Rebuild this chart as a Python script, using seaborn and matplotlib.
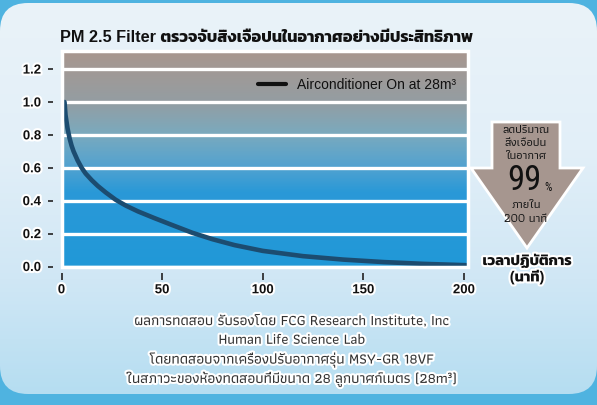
import numpy as np
import pandas as pd
import matplotlib
matplotlib.use("Agg")
import matplotlib.pyplot as plt
import matplotlib.patheffects as pe
from matplotlib.patches import Polygon, FancyBboxPatch
import seaborn as sns

# values
minutes = [1.5, 2, 3, 4, 5, 6, 8, 10, 12, 15, 18, 22, 27, 32, 38, 46, 55, 65, 75, 86,
           100, 120, 140, 160, 180, 201]
pm_level = [1.0, 0.92, 0.84, 0.78, 0.735, 0.70, 0.645, 0.60, 0.565, 0.525, 0.49, 0.45,
            0.405, 0.37, 0.335, 0.295, 0.252, 0.205, 0.166, 0.13, 0.095, 0.063, 0.042,
            0.027, 0.016, 0.008]
y_ticks = [0.0, 0.2, 0.4, 0.6, 0.8, 1.0, 1.2]
x_ticks = [0, 50, 100, 150, 200]
series_name = "Airconditioner On at 28m³"
title = "PM 2.5 Filter ตรวจจับสิ่งเจือปนในอากาศอย่างมีประสิทธิภาพ"
x_label = "เวลาปฏิบัติการ\n(นาที)"
arrow_lines = ["ลดปริมาณ", "สิ่งเจือปน", "ในอากาศ"]
arrow_big = "99"
arrow_after = ["ภายใน", "200 นาที"]
footnote = ["ผลการทดสอบ รับรองโดย FCG Research Institute, Inc",
            "Human Life Science Lab",
            "โดยทดสอบจากเครื่องปรับอากาศรุ่น MSY-GR 18VF",
            "ในสภาวะของห้องทดสอบที่มีขนาด 28 ลูกบาศก์เมตร (28m³)"]

df = pd.DataFrame({"minute": minutes, "level": pm_level})

sns.set_theme(style="white")
plt.rcParams["font.family"] = ["Liberation Sans", "Athiti", "DejaVu Sans"]
narrow = ["Athiti", "DejaVu Sans"]
bold_thai = ["Liberation Sans", "Kanit", "Athiti", "DejaVu Sans"]
glow = [pe.withStroke(linewidth=3, foreground="white")]

W, H = 597, 405
fig = plt.figure(figsize=(W / 100, H / 100), dpi=100)
fig.patch.set_facecolor("#4fb3e0")


def fx(px):
    return px / W


def fy(py):
    return 1 - py / H


# background panel (pixel coordinates)
bg = fig.add_axes([0, 0, 1, 1], zorder=-10)
bg.set_xlim(0, W)
bg.set_ylim(H, 0)
bg.axis("off")
panel = FancyBboxPatch((0, 3), W, 391, boxstyle="round,pad=0,rounding_size=28",
                       facecolor="none", edgecolor="none")
bg.add_patch(panel)
stops_y = [0, 150, 280, 400]
stops_c = np.array([[234, 243, 249], [226, 239, 248], [208, 231, 245], [180, 221, 241]]) / 255
yy = np.linspace(0, H, 200)
grad = np.stack([np.interp(yy, stops_y, stops_c[:, k]) for k in range(3)], axis=-1)[:, None, :]
im = bg.imshow(grad, extent=[0, W, H, 0], aspect="auto", origin="upper")
im.set_clip_path(panel)

# arrow
arrow = Polygon([(492, 122), (560, 122), (560, 168), (583, 168), (527, 248),
                 (471, 168), (492, 168)], closed=True, facecolor="#a6968f",
                edgecolor="white", linewidth=2, joinstyle="miter")
bg.add_patch(arrow)

# main chart
ax = fig.add_axes([fx(61.5), fy(266.5), fx(468) - fx(61.5), fy(51) - fy(266.5)])
ymax = 1.31
band_y = [0, 0.45, 0.6, 0.8, 1.0, 1.2, ymax]
band_c = np.array([[33, 152, 216], [42, 153, 215], [82, 162, 208], [122, 170, 190],
                   [148, 157, 162], [162, 153, 149], [168, 150, 142]]) / 255
gy = np.linspace(0, ymax, 300)
bgrad = np.stack([np.interp(gy, band_y, band_c[:, k]) for k in range(3)], axis=-1)[:, None, :]
ax.imshow(bgrad, extent=[0, 202, 0, ymax], aspect="auto", origin="lower", zorder=0)

sns.lineplot(data=df, x="minute", y="level", ax=ax, color="#1c4c70", linewidth=3.3,
             label=series_name, zorder=3)
ax.lines[0].set_solid_joinstyle("round")

ax.set_xlim(0, 202)
ax.set_ylim(0, ymax)
ax.set_yticks(y_ticks)
ax.set_yticklabels([f"{v:.1f}" for v in y_ticks])
ax.set_xticks(x_ticks)
ax.set_xticklabels([str(v) for v in x_ticks])
ax.set_xlabel("")
ax.set_ylabel("")
ax.yaxis.grid(True, color="white", linewidth=2.4)
ax.xaxis.grid(False)
ax.set_axisbelow(True)
for s in ax.spines.values():
    s.set_visible(False)
ax.spines["left"].set_position(("outward", 6))
ax.spines["bottom"].set_position(("outward", 5))
ax.tick_params(axis="y", left=True, length=3.6, width=1.2, color="#222222", pad=5,
               labelsize=9.5, labelcolor="#111111")
ax.tick_params(axis="x", bottom=True, length=4.8, width=1.2, color="#222222", pad=3,
               labelsize=9.5, labelcolor="#111111")
for lab in ax.get_xticklabels() + ax.get_yticklabels():
    lab.set_fontweight("bold")
    lab.set_path_effects(glow)
ax.add_patch(plt.Rectangle((0, 0), 1, 1, transform=ax.transAxes, fill=False,
                           edgecolor="white", linewidth=2.5, zorder=5, clip_on=False))

leg = ax.legend(loc="center left", bbox_to_anchor=(0.483, 0.842), frameon=False,
                borderpad=0, borderaxespad=0, handlelength=2.0, handletextpad=0.8,
                fontsize=10)
for t in leg.get_texts():
    t.set_color("#111111")
for h in leg.legend_handles:
    h.set_color("#111111")
    h.set_linewidth(3)

# texts
fig.text(fx(60), fy(38), title, fontsize=11.7, fontweight="bold", va="center", ha="left",
         family=bold_thai, color="#111111")

for i, line in enumerate(arrow_lines):
    fig.text(fx(526), fy(130 + 13 * i), line, fontsize=8.6, ha="center", va="center",
             family=narrow, fontweight="medium", color="#1a1a1a")
fig.text(fx(524), fy(181), arrow_big, fontsize=25, ha="center", va="center",
         family=["Roboto Condensed", "Archivo Narrow", "Liberation Sans"], color="#111111")
fig.text(fx(548), fy(188), "%", fontsize=8.5, ha="center", va="center",
         family=["Roboto Condensed", "Liberation Sans"], color="#111111")
for i, line in enumerate(arrow_after):
    fig.text(fx(526), fy(205 + 13.5 * i), line, fontsize=8.6, ha="center", va="center",
             family=narrow, fontweight="medium", color="#1a1a1a")

fig.text(fx(527), fy(269), x_label, fontsize=10.5, fontweight="bold", ha="center",
         va="center", linespacing=1.1, family=bold_thai,
         color="#111111", path_effects=glow)

for i, line in enumerate(footnote):
    fig.text(fx(292), fy(321 + 19.3 * i), line, fontsize=10.6, ha="center", va="center",
             family=narrow, fontweight="medium", color="#333333", path_effects=glow)

fig.savefig("out.png", dpi=100, facecolor=fig.get_facecolor())
